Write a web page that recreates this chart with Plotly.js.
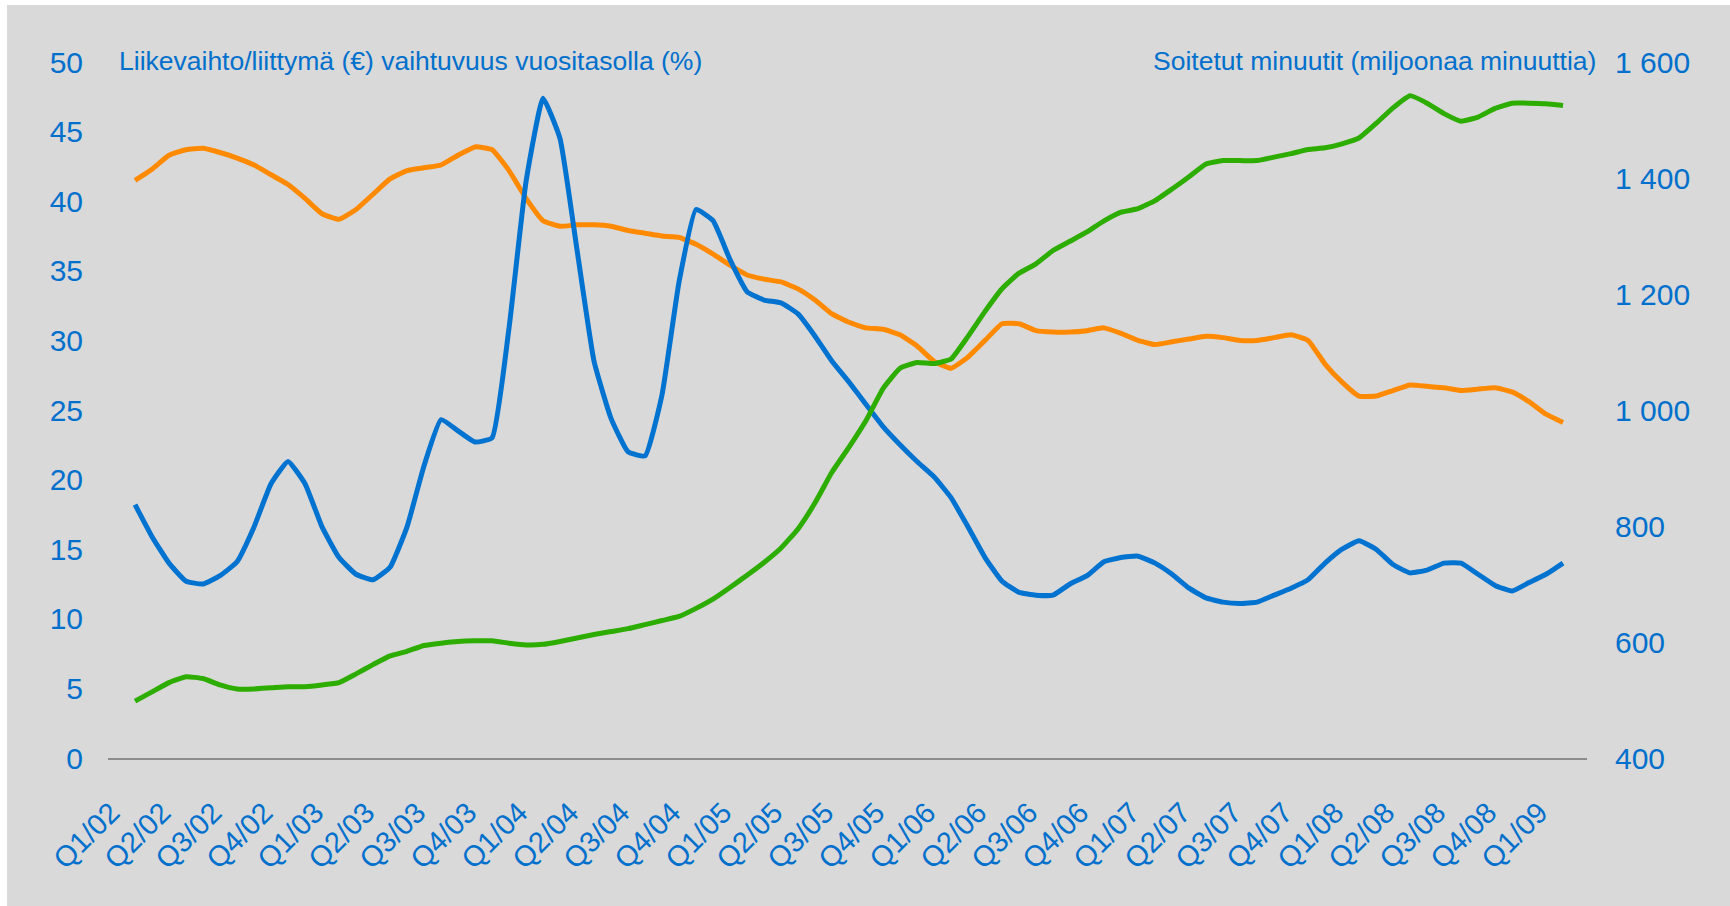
<!DOCTYPE html>
<html>
<head>
<meta charset="utf-8">
<script src="https://cdn.plot.ly/plotly-3.0.1.min.js"></script>
<style>
  html, body { margin: 0; padding: 0; background: #ffffff; width: 1730px; height: 906px; overflow: hidden; }
  #chart { position: absolute; left: 7px; top: 5px; width: 1723px; height: 901px; }
</style>
</head>
<body>
<div id="chart"></div>
<script>
// Quarter tick labels (every third month)
const quarterLabels = ["Q1/02","Q2/02","Q3/02","Q4/02","Q1/03","Q2/03","Q3/03","Q4/03",
  "Q1/04","Q2/04","Q3/04","Q4/04","Q1/05","Q2/05","Q3/05","Q4/05",
  "Q1/06","Q2/06","Q3/06","Q4/06","Q1/07","Q2/07","Q3/07","Q4/07",
  "Q1/08","Q2/08","Q3/08","Q4/08","Q1/09"];

// Monthly categories Jan 2002 .. Jan 2009
const months = [];
for (let y = 2; y <= 9; y++) {
  for (let m = 1; m <= 12; m++) {
    if (y === 9 && m > 1) break;
    months.push(String(m).padStart(2, "0") + "/" + String(y).padStart(2, "0"));
  }
}

// Liikevaihto/liittymä (€) — left axis
const revenuePerSub = [
  41.5, 42.3, 43.3, 43.7, 43.8, 43.5, 43.1, 42.6, 41.9, 41.2,
  40.2, 39.1, 38.7, 39.4, 40.5, 41.6, 42.2, 42.4, 42.6, 43.3,
  43.9, 43.7, 42.2, 40.2, 38.6, 38.2, 38.3, 38.3, 38.2, 37.9,
  37.7, 37.5, 37.4, 36.9, 36.2, 35.4, 34.7, 34.4, 34.2, 33.7,
  32.9, 31.9, 31.3, 30.9, 30.8, 30.4, 29.6, 28.5, 28.0, 28.8,
  30.0, 31.2, 31.2, 30.7, 30.6, 30.6, 30.7, 30.9, 30.5, 30.0,
  29.7, 29.9, 30.1, 30.3, 30.2, 30.0, 30.0, 30.2, 30.4, 30.0,
  28.3, 27.0, 26.0, 26.0, 26.4, 26.8, 26.7, 26.6, 26.4, 26.5,
  26.6, 26.3, 25.6, 24.7, 24.1
];

// Vaihtuvuus vuositasolla (%) — left axis
const churn = [
  18.2, 15.9, 14.0, 12.7, 12.5, 13.1, 14.1, 16.6, 19.7, 21.3,
  19.7, 16.6, 14.4, 13.2, 12.8, 13.7, 16.6, 21.0, 24.3, 23.5,
  22.7, 23.0, 30.9, 41.4, 47.4, 44.5, 36.5, 28.5, 24.4, 22.0,
  21.7, 26.1, 34.2, 39.4, 38.6, 35.8, 33.5, 32.9, 32.7, 31.9,
  30.3, 28.5, 27.0, 25.4, 23.8, 22.5, 21.3, 20.2, 18.7, 16.6,
  14.4, 12.7, 11.9, 11.7, 11.7, 12.5, 13.1, 14.1, 14.4, 14.5,
  14.0, 13.2, 12.2, 11.5, 11.2, 11.1, 11.2, 11.7, 12.2, 12.8,
  14.0, 15.0, 15.6, 15.0, 13.9, 13.3, 13.5, 14.0, 14.0, 13.2,
  12.4, 12.0, 12.6, 13.2, 14.0
];

// Soitetut minuutit (miljoonaa minuuttia) — right axis
const minutes = [
  498, 514, 530, 540, 537, 526, 519, 519, 521, 523,
  523, 526, 530, 545, 561, 576, 584, 594, 598, 601,
  602, 602, 598, 595, 596, 601, 607, 613, 618, 623,
  630, 637, 644, 658, 674, 694, 715, 737, 762, 795,
  840, 893, 936, 982, 1037, 1072, 1082, 1080, 1088, 1127,
  1170, 1209, 1236, 1252, 1275, 1291, 1307, 1326, 1341, 1347,
  1361, 1381, 1402, 1424, 1430, 1430, 1430, 1436, 1442, 1449,
  1452, 1459, 1469, 1494, 1521, 1542, 1529, 1511, 1498, 1505,
  1520, 1529, 1529, 1528, 1525
];

const leftTitle = "Liikevaihto/liittymä (€) vaihtuvuus vuositasolla (%)";
const rightTitle = "Soitetut minuutit (miljoonaa minuuttia)";

const BLUE_TXT = "#0070CC";
const FONT = "Liberation Sans, Arial, sans-serif";

const tickVals = quarterLabels.map((_, k) => months[k * 3]);

const lineStyle = (color) => ({ color: color, width: 5, shape: "spline", smoothing: 0.4 });

const traces = [
  { x: months, y: revenuePerSub, type: "scatter", mode: "lines", yaxis: "y",
    line: lineStyle("#FF8A00"), name: "Liikevaihto/liittymä (€)" },
  { x: months, y: minutes, type: "scatter", mode: "lines", yaxis: "y2",
    line: lineStyle("#2DAD00"), name: "Soitetut minuutit" },
  { x: months, y: churn, type: "scatter", mode: "lines", yaxis: "y",
    line: lineStyle("#0072D0"), name: "Vaihtuvuus (%)" }
];

const layout = {
  width: 1723, height: 901,
  paper_bgcolor: "#D9D9D9", plot_bgcolor: "#D9D9D9",
  margin: { l: 101, r: 143, t: 57, b: 148 },
  showlegend: false,
  separators: ", ",
  font: { family: FONT, color: BLUE_TXT, size: 30 },
  xaxis: {
    type: "category",
    range: [-1.59, months.length - 1 + 1.41],
    tickmode: "array", tickvals: tickVals, ticktext: quarterLabels,
    tickangle: -45, ticks: "", showgrid: false, zeroline: false,
    showline: true, linecolor: "#8C8C8C", linewidth: 2,
    tickfont: { family: FONT, color: BLUE_TXT, size: 29 },
    ticklabelstandoff: 24,
    ticklabelshift: -24
  },
  yaxis: {
    range: [0, 50], dtick: 5, tick0: 0, showgrid: false, zeroline: false,
    showline: false, ticks: "",
    tickfont: { family: FONT, color: BLUE_TXT, size: 30 },
    ticklabelstandoff: 24
  },
  yaxis2: {
    range: [400, 1600], dtick: 200, tick0: 400, overlaying: "y", side: "right",
    showgrid: false, zeroline: false, showline: false, ticks: "",
    separatethousands: true,
    tickfont: { family: FONT, color: BLUE_TXT, size: 30 },
    ticklabelstandoff: 27
  },
  annotations: [
    { xref: "paper", yref: "paper", x: 0.0061, y: 1.0014, xanchor: "left", yanchor: "middle",
      text: leftTitle, showarrow: false, font: { family: FONT, color: BLUE_TXT, size: 26.5 } },
    { xref: "paper", yref: "paper", x: 1.0074, y: 1.0014, xanchor: "right", yanchor: "middle",
      text: rightTitle, showarrow: false, font: { family: FONT, color: BLUE_TXT, size: 26.5 } }
  ]
};

Plotly.newPlot("chart", traces, layout, { displayModeBar: false, staticPlot: true });
</script>
</body>
</html>
